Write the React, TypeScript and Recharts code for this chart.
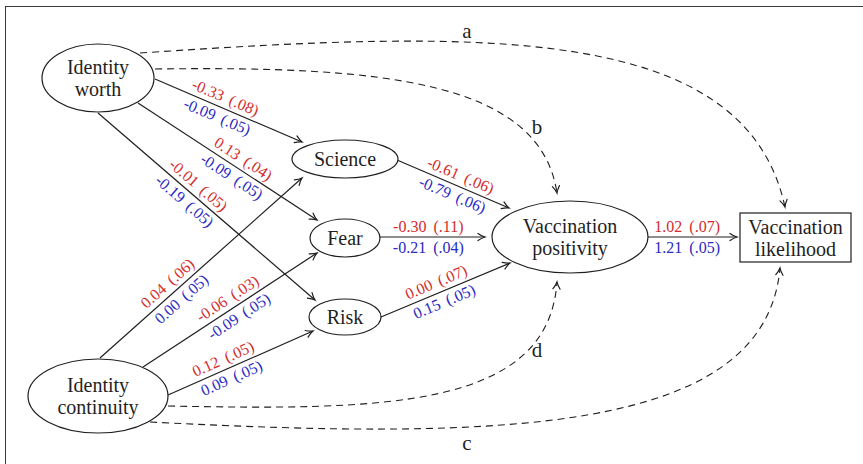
import { ScatterChart, Scatter, XAxis, YAxis } from "recharts";

const W = 863;
const H = 464;

// figure coordinates: x to the right, y downward (y axis is reversed)
const nodeIds = ["worth", "continuity", "science", "fear", "risk", "positivity", "likelihood"];
const nodeText = [
  ["Identity", "worth"],
  ["Identity", "continuity"],
  ["Science"],
  ["Fear"],
  ["Risk"],
  ["Vaccination", "positivity"],
  ["Vaccination", "likelihood"],
];
const nodeX = [98, 98, 345, 345, 345, 570, 795.5];
const nodeY = [78, 396, 159, 238, 317, 237, 237.5];

// direct paths: start -> arrow tip, with the two estimates (se)
const pathStart = [[155, 79], [138, 103], [98, 113], [100, 358], [143, 367], [168, 395], [397, 160], [380, 237], [381, 317], [648, 237]];
const pathEnd = [[302, 142], [317, 220], [315, 300], [302, 178], [317, 253], [313, 331], [509, 208], [485, 237], [510, 263], [737, 237]];
const estRed = ["-0.33 (.08)", "0.13 (.04)", "-0.01 (.05)", "0.04 (.06)", "-0.06 (.03)", "0.12 (.05)", "-0.61 (.06)", "-0.30 (.11)", "0.00 (.07)", "1.02 (.07)"];
const estBlue = ["-0.09 (.05)", "-0.09 (.05)", "-0.19 (.05)", "0.00 (.05)", "-0.09 (.05)", "0.09 (.05)", "-0.79 (.06)", "-0.21 (.04)", "0.15 (.05)", "1.21 (.05)"];

// indirect (dashed) paths: start, two control points, arrow tip
const indirectIds = ["a", "b", "d", "c"];
const indirectPts = [
  [[140, 53], [480, 30], [745, 22], [785, 207]],
  [[155, 69], [380, 66], [540, 80], [557, 193]],
  [[168, 406], [380, 410], [548, 410], [557, 282]],
  [[150, 422], [500, 440], [765, 435], [780, 268]],
];
const indirectLabelX = [467, 537, 537, 467];
const indirectLabelY = [31, 127, 350, 443];

const INK = "#1f1f1f";
const RED = "#d42c2c";
const BLUE = "#2a2ac4";
const SERIF = '"Liberation Serif", "DejaVu Serif", serif';

const NODE_SIZE: Record<string, { rx: number; ry: number; box?: boolean }> = {
  worth: { rx: 56, ry: 34 },
  continuity: { rx: 70, ry: 37 },
  science: { rx: 53, ry: 19 },
  fear: { rx: 35, ry: 19 },
  risk: { rx: 36, ry: 18 },
  positivity: { rx: 78, ry: 36 },
  likelihood: { rx: 55.5, ry: 24.5, box: true },
};
// where along each direct path its estimates sit
const LABEL_AT = [0.45, 0.555, 0.43, 0.37, 0.52, 0.41, 0.53, 0.46, 0.46, 0.44];

const nodes = nodeIds.map((id, i) => ({ id, lines: nodeText[i], x: nodeX[i], y: nodeY[i] }));
const letters = indirectIds.map((id, i) => ({ id, x: indirectLabelX[i], y: indirectLabelY[i] }));

function arrowHead(x: number, y: number, ux: number, uy: number) {
  const len = 7;
  const half = 3.6;
  const nx = -uy;
  const ny = ux;
  const bx = x - len * ux;
  const by = y - len * uy;
  const qx = x - len * 0.45 * ux;
  const qy = y - len * 0.45 * uy;
  return (
    <path
      d={`M${bx + half * nx},${by + half * ny} Q${qx + half * 0.25 * nx},${qy + half * 0.25 * ny} ${x},${y} Q${qx - half * 0.25 * nx},${qy - half * 0.25 * ny} ${bx - half * nx},${by - half * ny}`}
      fill="none"
      stroke={INK}
      strokeWidth={1.2}
      strokeLinecap="round"
    />
  );
}

const directEdge = (i: number) => (props: any) => {
  const [a, b] = props.points;
  const dx = b.x - a.x;
  const dy = b.y - a.y;
  const len = Math.hypot(dx, dy);
  const ux = dx / len;
  const uy = dy / len;
  const nx = uy;
  const ny = -ux;
  const t = LABEL_AT[i];
  const mx = a.x + dx * t;
  const my = a.y + dy * t;
  const deg = (Math.atan2(dy, dx) * 180) / Math.PI;
  const label = (text: string, off: number, fill: string) => (
    <text
      transform={`translate(${mx + nx * off},${my + ny * off}) rotate(${deg})`}
      textAnchor="middle"
      dominantBaseline="central"
      fill={fill}
      fontFamily={SERIF}
      fontSize={16}
      wordSpacing={3}
    >
      {text}
    </text>
  );
  return (
    <g>
      <line x1={a.x} y1={a.y} x2={b.x} y2={b.y} stroke={INK} strokeWidth={1.2} />
      {arrowHead(b.x, b.y, ux, uy)}
      {label(estRed[i], 11, RED)}
      {label(estBlue[i], -10, BLUE)}
    </g>
  );
};

const indirectEdge = (props: any) => {
  const [p0, p1, p2, p3] = props.points;
  const dx = p3.x - p2.x;
  const dy = p3.y - p2.y;
  const l = Math.hypot(dx, dy);
  return (
    <g>
      <path
        d={`M${p0.x},${p0.y} C${p1.x},${p1.y} ${p2.x},${p2.y} ${p3.x},${p3.y}`}
        fill="none"
        stroke={INK}
        strokeWidth={1.1}
        strokeDasharray="7 5"
      />
      {arrowHead(p3.x, p3.y, dx / l, dy / l)}
    </g>
  );
};

const NodeShape = (props: any) => {
  const { cx, cy, payload } = props;
  const size = NODE_SIZE[payload.id];
  const lines: string[] = payload.lines;
  return (
    <g>
      {size.box ? (
        <rect x={cx - size.rx} y={cy - size.ry} width={size.rx * 2} height={size.ry * 2} fill="#fff" stroke={INK} strokeWidth={1.2} />
      ) : (
        <ellipse cx={cx} cy={cy} rx={size.rx} ry={size.ry} fill="#fff" stroke={INK} strokeWidth={1.2} />
      )}
      {lines.map((s, k) => (
        <text
          key={k}
          x={cx}
          y={cy + (k - (lines.length - 1) / 2) * 22}
          textAnchor="middle"
          dominantBaseline="central"
          fill={INK}
          fontFamily={SERIF}
          fontSize={20}
        >
          {s}
        </text>
      ))}
    </g>
  );
};

const LetterShape = (props: any) => (
  <text x={props.cx} y={props.cy} textAnchor="middle" dominantBaseline="central" fill={INK} fontFamily={SERIF} fontSize={21}>
    {props.payload.id}
  </text>
);

const noDot = () => <g />;

export default function App() {
  return (
    <div style={{ position: "absolute", left: 0, top: 0, width: W, height: H, overflow: "hidden", background: "#fff" }}>
      <div
        style={{
          position: "absolute",
          left: 5,
          top: 6,
          width: W,
          height: H,
          borderTop: "1.5px solid #3a3a3a",
          borderLeft: "1.5px solid #3a3a3a",
        }}
      />
      <ScatterChart width={W} height={H} margin={{ top: 0, right: 0, bottom: 0, left: 0 }} style={{ position: "absolute", left: 0, top: 0 }}>
        <XAxis type="number" dataKey="x" domain={[0, W]} allowDataOverflow hide />
        <YAxis type="number" dataKey="y" domain={[0, H]} allowDataOverflow reversed hide />
        {indirectPts.map((pts, i) => (
          <Scatter
            key={indirectIds[i]}
            data={pts.map(([x, y]) => ({ x, y }))}
            line={indirectEdge}
            lineType="joint"
            shape={noDot}
            isAnimationActive={false}
          />
        ))}
        {pathStart.map((s, i) => (
          <Scatter
            key={"p" + i}
            data={[{ x: s[0], y: s[1] }, { x: pathEnd[i][0], y: pathEnd[i][1] }]}
            line={directEdge(i)}
            lineType="joint"
            shape={noDot}
            isAnimationActive={false}
          />
        ))}
        <Scatter data={letters} shape={LetterShape} isAnimationActive={false} />
        <Scatter data={nodes} shape={NodeShape} isAnimationActive={false} />
      </ScatterChart>
    </div>
  );
}
